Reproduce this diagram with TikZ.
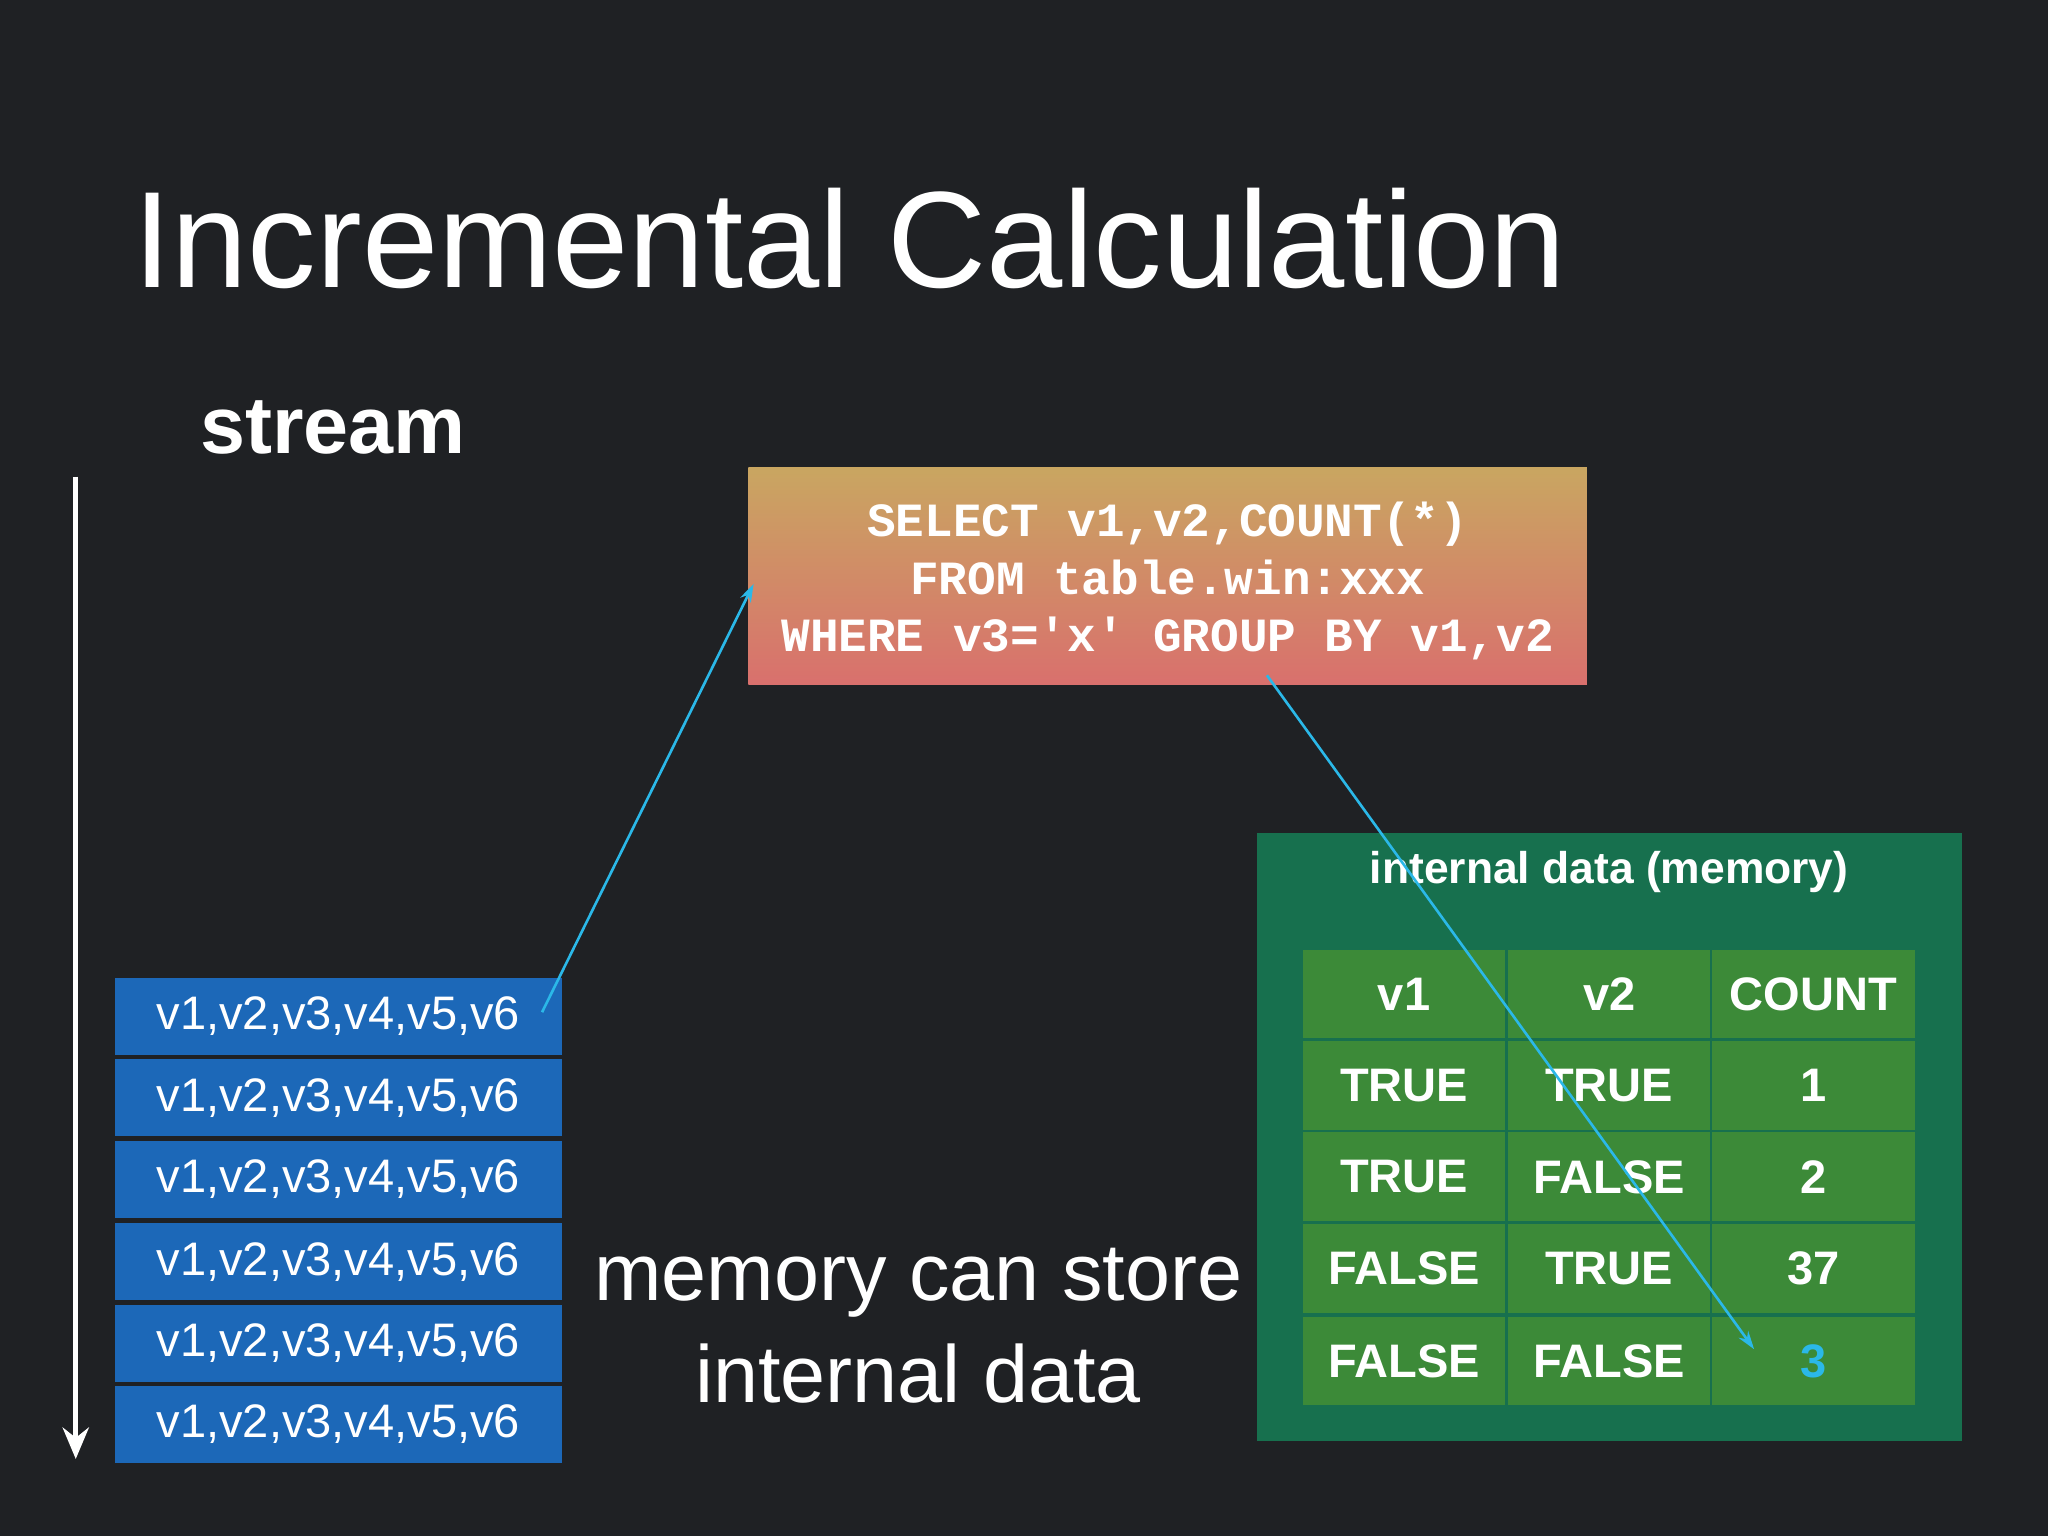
\documentclass[tikz,border=0pt]{standalone}
\usepackage{fontspec}
\setmainfont{Liberation Sans}
\setmonofont{Liberation Mono}
\usetikzlibrary{arrows.meta}
\definecolor{bg}{HTML}{1F2124}
\definecolor{rowblue}{HTML}{1C68B8}
\definecolor{outgreen}{HTML}{17704E}
\definecolor{cellgreen}{HTML}{3C8A38}
\definecolor{cyanl}{HTML}{2BB8E8}
\definecolor{sqltop}{HTML}{C9A661}
\definecolor{sqlbot}{HTML}{D9706D}
\tikzset{
  fs/.style={font=\fontsize{#1}{#1}\selectfont},
  rowbox/.style={fill=rowblue, minimum width=342pt, minimum height=59pt, inner sep=0pt, text=white, fs=36},
  cell/.style={fill=cellgreen, minimum width=155pt, minimum height=68pt, inner sep=0pt, text=white, font=\fontsize{36}{36}\selectfont\bfseries},
  cyarrow/.style={draw=cyanl, line width=2pt, -{Stealth[length=14pt,width=9pt]}}
}
\begin{document}
\begin{tikzpicture}[x=1pt,y=-1pt]
\fill[bg] (0,0) rectangle (1568,1176);
\useasboundingbox (0,0) rectangle (1568,1176);
\node[anchor=base west, text=white, fs=105, inner sep=0pt] (title) at (102,220) {Incremental Calculation};
\node[anchor=base west, text=white, font=\fontsize{62}{62}\selectfont\bfseries, inner sep=0pt] (stream) at (153,347) {stream};
\coordinate (s0) at (58,365);
\coordinate (s1) at (58,1117);
\draw[white, line width=4pt, -{Stealth[length=24pt,width=20pt]}] (s0) -- (s1);
\foreach \i/\y in {1/778,2/840.5,3/903,4/966,5/1028.5,6/1090.5}{
  \node[rowbox] (r\i) at (259,\y) {v1,v2,v3,v4,v5,v6};
}
\shade[top color=sqltop, bottom color=sqlbot] (573,358) rectangle (1215,524);
\node[inner sep=0pt, minimum width=642pt, minimum height=166pt] (sql) at (894,441) {};
\node[align=center, text=white, font=\fontsize{36.5}{44}\selectfont\ttfamily\bfseries] (sqltext) at (894,445) {SELECT v1,v2,COUNT(*)\\FROM table.win:xxx\\WHERE v3='x' GROUP BY v1,v2};
\node[fill=outgreen, minimum width=540pt, minimum height=465pt, inner sep=0pt] (mem) at (1232,870.5) {};
\node[text=white, font=\fontsize{34}{34}\selectfont\bfseries] (memt) at (1232,668) {internal data (memory)};
\foreach \r/\y/\a/\b/\c in {0/761/v1/v2/COUNT,1/831/TRUE/TRUE/1,2/901/TRUE/FALSE/2,3/971/FALSE/TRUE/37}{
  \node[cell] (c\r a) at (1075,\y) {\a};
  \node[cell] (c\r b) at (1232,\y) {\b};
  \node[cell] (c\r c) at (1388.5,\y) {\c};
}
\node[cell] (c4a) at (1075,1042) {FALSE};
\node[cell] (c4b) at (1232,1042) {FALSE};
\node[cell, text=cyanl] (c4c) at (1388.5,1042) {3};
\node[align=center, text=white, font=\fontsize{62}{78}\selectfont] (note) at (703,1015) {memory can store\\internal data};
\coordinate (a0) at (415,775);
\coordinate (a1) at (577,447);
\draw[cyarrow] (a0) -- (a1);
\coordinate (b0) at (970,517);
\coordinate (b1) at (1343,1033);
\draw[cyarrow] (b0) -- (b1);
\end{tikzpicture}
\end{document}
